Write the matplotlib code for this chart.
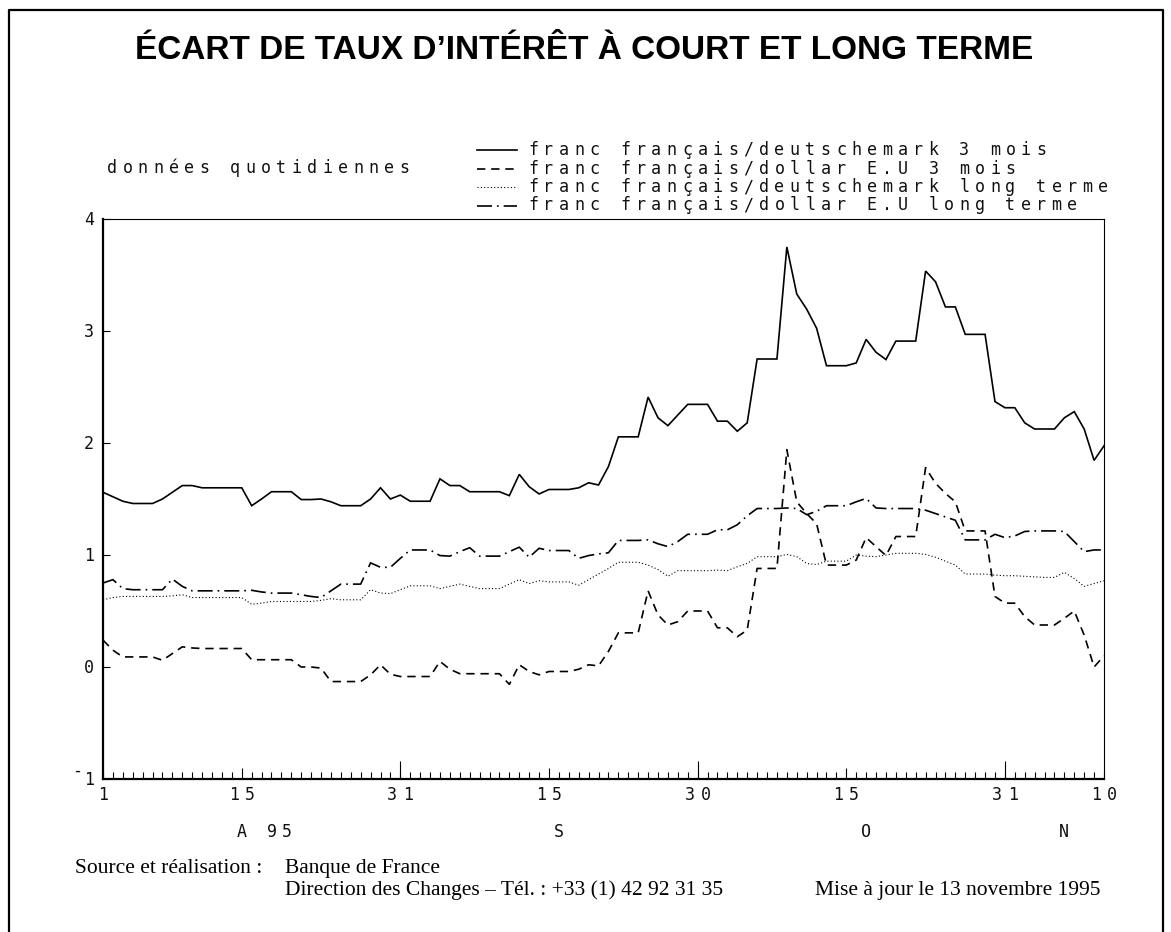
import matplotlib
matplotlib.use("Agg")
import matplotlib.pyplot as plt
import numpy as np
import pandas as pd
from matplotlib.transforms import offset_copy

# daily data, 1 Aug 1995 -> 10 Nov 1995 (weekends carry the Friday value)
dates = pd.date_range("1995-08-01", "1995-11-10", freq="D")

fr_dm_3m = [
    1.56, 1.52, 1.48, 1.46, 1.46, 1.46, 1.50, 1.56, 1.62, 1.62,
    1.60, 1.60, 1.60, 1.60, 1.60, 1.44, 1.50, 1.565, 1.565, 1.565,
    1.495, 1.495, 1.50, 1.475, 1.44, 1.44, 1.44, 1.50, 1.60, 1.50,
    1.535, 1.48, 1.48, 1.48, 1.68, 1.62, 1.62, 1.565, 1.565, 1.565,
    1.565, 1.53, 1.72, 1.61, 1.545, 1.585, 1.585, 1.585, 1.60, 1.645,
    1.625, 1.79, 2.055, 2.055, 2.055, 2.41, 2.225, 2.155, 2.25, 2.345,
    2.345, 2.345, 2.195, 2.195, 2.105, 2.18, 2.75, 2.75, 2.75, 3.75,
    3.33, 3.195, 3.025, 2.69, 2.69, 2.69, 2.715, 2.925, 2.81, 2.745,
    2.91, 2.91, 2.91, 3.535, 3.44, 3.215, 3.215, 2.97, 2.97, 2.97,
    2.37, 2.315, 2.315, 2.18, 2.125, 2.125, 2.125, 2.225, 2.28, 2.125,
    1.845, 1.975,
]
fr_usd_3m = [
    0.24, 0.15, 0.09, 0.09, 0.09, 0.09, 0.06, 0.12, 0.18, 0.17,
    0.165, 0.165, 0.165, 0.165, 0.165, 0.065, 0.065, 0.065, 0.065, 0.065,
    0.0, 0.0, -0.01, -0.13, -0.13, -0.13, -0.13, -0.07, 0.02, -0.065,
    -0.085, -0.085, -0.085, -0.085, 0.05, -0.02, -0.06, -0.06, -0.06, -0.06,
    -0.06, -0.155, 0.02, -0.04, -0.07, -0.04, -0.04, -0.04, -0.02, 0.02,
    0.01, 0.14, 0.305, 0.305, 0.305, 0.68, 0.465, 0.375, 0.405, 0.50,
    0.50, 0.50, 0.35, 0.35, 0.27, 0.33, 0.88, 0.88, 0.88, 1.94,
    1.475, 1.37, 1.28, 0.91, 0.91, 0.91, 0.955, 1.155, 1.075, 0.995,
    1.165, 1.165, 1.165, 1.78, 1.64, 1.55, 1.475, 1.215, 1.215, 1.215,
    0.63, 0.57, 0.57, 0.45, 0.375, 0.375, 0.375, 0.435, 0.50, 0.285,
    0.0, 0.10,
]
fr_dm_lt = [
    0.60, 0.62, 0.63, 0.63, 0.63, 0.63, 0.63, 0.635, 0.645, 0.62,
    0.62, 0.62, 0.62, 0.62, 0.62, 0.56, 0.57, 0.585, 0.585, 0.585,
    0.585, 0.585, 0.595, 0.61, 0.60, 0.60, 0.60, 0.69, 0.66, 0.655,
    0.69, 0.725, 0.725, 0.725, 0.70, 0.72, 0.74, 0.72, 0.70, 0.70,
    0.70, 0.74, 0.78, 0.745, 0.77, 0.76, 0.76, 0.76, 0.73, 0.78,
    0.83, 0.88, 0.935, 0.935, 0.935, 0.91, 0.87, 0.81, 0.86, 0.86,
    0.86, 0.86, 0.865, 0.86, 0.895, 0.925, 0.985, 0.985, 0.985, 1.005,
    0.985, 0.925, 0.915, 0.945, 0.945, 0.945, 1.0, 0.99, 0.985, 1.0,
    1.015, 1.015, 1.015, 1.005, 0.98, 0.945, 0.91, 0.83, 0.83, 0.83,
    0.82, 0.815, 0.815, 0.81, 0.805, 0.80, 0.80, 0.845, 0.79, 0.72,
    0.745, 0.77,
]
fr_usd_lt = [
    0.75, 0.78, 0.70, 0.69, 0.69, 0.69, 0.69, 0.785, 0.72, 0.68,
    0.68, 0.68, 0.68, 0.68, 0.68, 0.685, 0.67, 0.66, 0.66, 0.66,
    0.645, 0.63, 0.62, 0.68, 0.74, 0.74, 0.74, 0.93, 0.89, 0.89,
    0.97, 1.045, 1.045, 1.045, 0.995, 0.99, 1.03, 1.065, 0.99, 0.99,
    0.99, 1.03, 1.07, 0.98, 1.06, 1.04, 1.04, 1.04, 0.97, 0.995,
    1.01, 1.02, 1.13, 1.13, 1.13, 1.135, 1.10, 1.075, 1.12, 1.185,
    1.185, 1.185, 1.225, 1.225, 1.27, 1.35, 1.415, 1.415, 1.415, 1.42,
    1.415, 1.36, 1.39, 1.44, 1.44, 1.44, 1.475, 1.505, 1.42, 1.415,
    1.415, 1.415, 1.415, 1.40, 1.37, 1.34, 1.31, 1.135, 1.135, 1.135,
    1.185, 1.155, 1.17, 1.21, 1.215, 1.215, 1.215, 1.21, 1.12, 1.03,
    1.045, 1.045,
]

series_labels = [
    "franc français/deutschemark 3 mois",
    "franc français/dollar E.U 3 mois",
    "franc français/deutschemark long terme",
    "franc français/dollar E.U long terme",
]
series_styles = [
    dict(ls="-", lw=1.2),
    dict(ls=(0, (5, 3.5)), lw=1.2),
    dict(ls=(0, (1, 2)), lw=0.8),
    dict(ls=(0, (9, 3, 1, 3)), lw=1.2),
]

tick_dates = pd.to_datetime(["1995-08-01", "1995-08-15", "1995-08-31", "1995-09-15",
                             "1995-09-30", "1995-10-15", "1995-10-31", "1995-11-10"])
tick_texts = ["1", "15", "31", "15", "30", "15", "31", "10"]
mid_month = pd.to_datetime(["1995-08-15", "1995-09-15", "1995-10-15"])
month_ends = pd.to_datetime(["1995-08-31", "1995-09-30", "1995-10-31"])
month_centres = pd.to_datetime(["1995-08-15", "1995-09-16", "1995-10-17", "1995-11-06"])
month_texts = ["A 95", "S", "O", "N"]

W, H = 1171, 932
MONO = "DejaVu Sans Mono"
fig = plt.figure(figsize=(W / 100, H / 100), dpi=100)


def spaced_text(ax, x, y, s, transform, step=15.4, align="left", size=12):
    # old plotter font: wide, evenly spaced characters
    n = len(s)
    if align == "left":
        start = 0
    elif align == "center":
        start = -(n - 1) * step / 2
    else:
        start = -(n - 1) * step
    for i, ch in enumerate(s):
        if ch == " ":
            continue
        tr = offset_copy(transform, fig=fig, x=start + i * step, y=0, units="dots")
        ax.text(x, y, ch, transform=tr, ha="center", va="baseline",
                family=MONO, fontsize=size, color="#111111")


# overlay in pixel coordinates for frame, title, legend, footer
over = fig.add_axes([0, 0, 1, 1])
over.set_xlim(0, W)
over.set_ylim(H, 0)
over.axis("off")

over.plot([9, 9, 1163, 1163], [H + 5, 10, 10, H + 5], color="black", lw=1.6)

over.text(584, 59, "ÉCART DE TAUX D’INTÉRÊT À COURT ET LONG TERME", ha="center", va="baseline",
          family="Liberation Sans", fontweight="bold", fontsize=24)

spaced_text(over, 112, 173, "données quotidiennes", over.transData, step=15.4)
legend_rows = [150, 168.5, 187, 205.5]
for row, lab, st in zip(legend_rows, series_labels, series_styles):
    over.plot([477, 517], [row, row], color="black", **st)
    spaced_text(over, 533, row + 5, lab, over.transData, step=15.4)

serif = dict(family="Liberation Serif", fontsize=15.5, va="baseline")
over.text(75, 873, "Source et réalisation :", **serif)
over.text(285, 873, "Banque de France", **serif)
over.text(285, 895, "Direction des Changes – Tél. : +33 (1) 42 92 31 35", **serif)
over.text(815, 895, "Mise à jour le 13 novembre 1995", **serif)

# main chart
ax = fig.add_axes([103 / W, 1 - 779 / H, 1001 / W, 560 / H])
for vals, st in zip([fr_dm_3m, fr_usd_3m, fr_dm_lt, fr_usd_lt], series_styles):
    ax.plot(dates, vals, color="black", solid_joinstyle="miter", **st)

ax.set_xlim(dates[0], dates[-1])
ax.set_ylim(-1, 4)

ax.spines["left"].set_linewidth(1.6)
ax.spines["bottom"].set_linewidth(1.6)
ax.spines["top"].set_linewidth(0.8)
ax.spines["right"].set_linewidth(0.8)

ax.set_xticks(dates, minor=True)
ax.set_xticks(mid_month)
ax.tick_params(axis="x", which="minor", direction="in", length=5, width=0.8)
ax.tick_params(axis="x", which="major", direction="in", length=8, width=0.8, labelbottom=False)
ax.vlines(month_ends, 0, 18 / 560, transform=ax.get_xaxis_transform(), color="black", lw=0.8)

ax.set_yticks(range(-1, 5))
ax.set_yticklabels([])
ax.tick_params(axis="y", direction="in", length=5, width=0.8)
ytr = ax.get_yaxis_transform()
for v in range(-1, 5):
    txt = str(v)
    if v < 0:
        spaced_text(ax, 0, v, "-", offset_copy(ytr, fig=fig, x=-26, y=3, units="dots"), align="right")
        txt = "1"
    spaced_text(ax, 0, v, txt, offset_copy(ytr, fig=fig, x=-14, y=-6, units="dots"), align="right")

xtr = offset_copy(ax.get_xaxis_transform(), fig=fig, x=0, y=-21, units="dots")
for d, t in zip(tick_dates, tick_texts):
    spaced_text(ax, d, 0, t, xtr, align="center", step=16)

mtr = offset_copy(ax.get_xaxis_transform(), fig=fig, x=0, y=-58, units="dots")
for d, t in zip(month_centres, month_texts):
    spaced_text(ax, d, 0, t, mtr, align="left", step=15)

fig.savefig("out.png", dpi=100)
